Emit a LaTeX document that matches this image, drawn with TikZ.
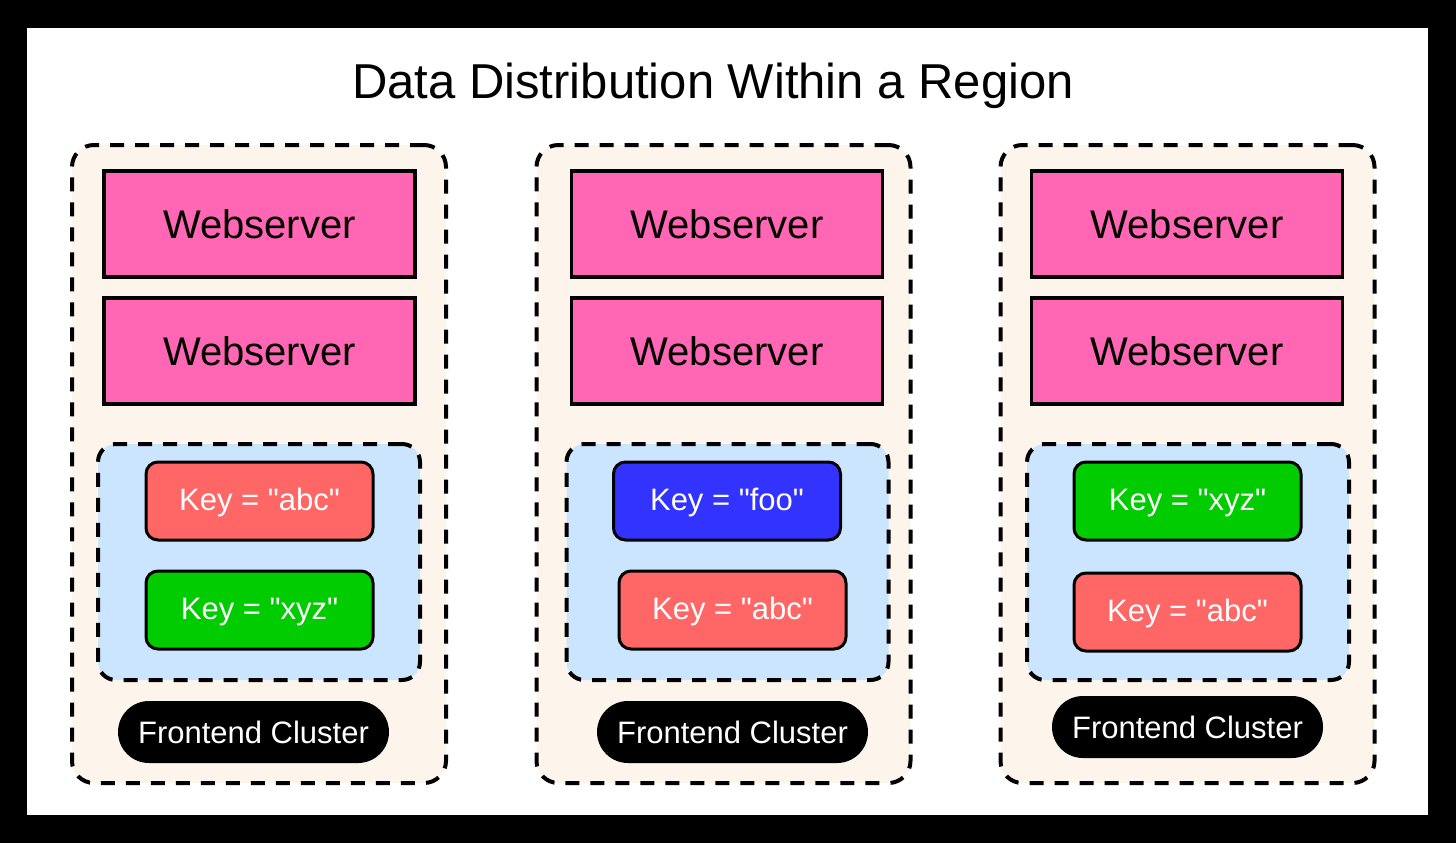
\documentclass[tikz,border=0pt]{standalone}
\usepackage{fontspec}
\setmainfont{Liberation Sans}[Ligatures=TeXOff]
\definecolor{cream}{HTML}{FDF5EC}
\definecolor{paleblue}{HTML}{CCE5FF}
\definecolor{webpink}{HTML}{FF66B3}
\definecolor{keyred}{HTML}{FF6666}
\definecolor{keygreen}{HTML}{00CC00}
\definecolor{keyblue}{HTML}{3333FF}
\begin{document}
\begin{tikzpicture}[x=1pt,y=-1pt,
  panel/.style={draw=black, fill=cream, line width=4pt, dash pattern=on 14pt off 11pt, rounded corners=22pt, minimum width=374pt, minimum height=638pt, inner sep=0pt},
  cache/.style={draw=black, fill=paleblue, line width=4pt, dash pattern=on 14pt off 11pt, rounded corners=18pt, minimum width=322pt, minimum height=236pt, inner sep=0pt},
  websrv/.style={draw=black, fill=webpink, line width=3.5pt, minimum width=311pt, minimum height=106pt, inner sep=0pt, font=\fontsize{40}{46}\selectfont, text=black},
  keybox/.style={draw=black, line width=3pt, rounded corners=12pt, minimum width=227pt, minimum height=78pt, inner sep=0pt, font=\fontsize{31}{36}\selectfont, text=white, text depth=3pt},
  pill/.style={fill=black, rounded corners=31pt, minimum width=271pt, minimum height=62pt, inner sep=0pt, font=\fontsize{31}{36}\selectfont, text=white},
  titlestyle/.style={font=\fontsize{49}{56}\selectfont, inner sep=0pt}
]
\fill[black] (0,0) rectangle (1456,843);
\fill[white] (27,28) rectangle (1428,815);
\useasboundingbox (0,0) rectangle (1456,843);

\node[titlestyle, anchor=base] (title) at (713,98) {Data Distribution Within a Region};

% panels
\node[panel] (p1) at (259,464) {};
\node[panel] (p2) at (723.5,464) {};
\node[panel] (p3) at (1187.5,464) {};

% webservers
\node[websrv] (w11) at (259.5,224) {Webserver};
\node[websrv] (w12) at (259.5,351) {Webserver};
\node[websrv] (w21) at (727,224) {Webserver};
\node[websrv] (w22) at (727,351) {Webserver};
\node[websrv] (w31) at (1187,224) {Webserver};
\node[websrv] (w32) at (1187,351) {Webserver};

% caches
\node[cache] (c1) at (259,562) {};
\node[cache] (c2) at (727.5,562) {};
\node[cache] (c3) at (1188,562) {};

% keys
\node[keybox, fill=keyred] (k11) at (259.5,501) {Key = "abc"};
\node[keybox, fill=keygreen] (k12) at (259.5,610) {Key = "xyz"};
\node[keybox, fill=keyblue] (k21) at (727,501) {Key = "foo"};
\node[keybox, fill=keyred] (k22) at (732.5,610) {Key = "abc"};
\node[keybox, fill=keygreen] (k31) at (1187.5,501) {Key = "xyz"};
\node[keybox, fill=keyred] (k32) at (1187.5,612) {Key = "abc"};

% labels
\node[pill] (f1) at (253.5,732) {Frontend Cluster};
\node[pill] (f2) at (732.5,732) {Frontend Cluster};
\node[pill] (f3) at (1187.5,727) {Frontend Cluster};
\end{tikzpicture}
\end{document}
